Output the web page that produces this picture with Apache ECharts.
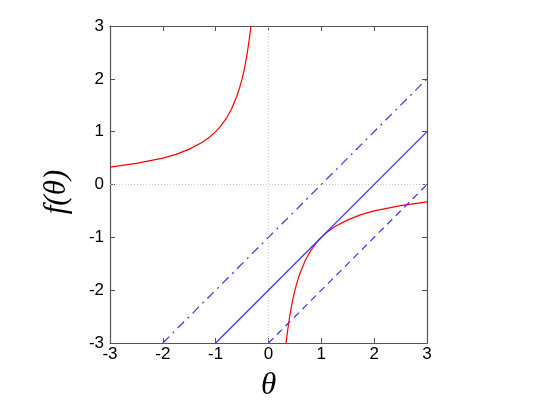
<!DOCTYPE html>
<html><head><meta charset="utf-8">
<script src="https://cdn.jsdelivr.net/npm/echarts@6/dist/echarts.min.js"></script>
<style>html,body{margin:0;padding:0;background:#fff}#c{width:545px;height:409px}</style>
</head><body><div id="c"></div>
<script>
// Values
var ticks = [-3, -2, -1, 0, 1, 2, 3];
var xName = 'θ';
var yName = 'f(θ)';
var redLeft = [[-3,0.33],[-2.5,0.4],[-2,0.5],[-1.75,0.57],[-1.5,0.67],[-1.25,0.8],[-1.1,0.91],[-1,1.0],[-0.9,1.11],[-0.8,1.25],[-0.7,1.43],[-0.6,1.67],[-0.55,1.82],[-0.5,2.0],[-0.45,2.22],[-0.4,2.5],[-0.36,2.78],[-0.333,3.0]];
var redRight = [[0.333,-3.0],[0.36,-2.78],[0.4,-2.5],[0.45,-2.22],[0.5,-2.0],[0.55,-1.82],[0.6,-1.67],[0.7,-1.43],[0.8,-1.25],[0.9,-1.11],[1,-1.0],[1.1,-0.91],[1.25,-0.8],[1.5,-0.67],[1.75,-0.57],[2,-0.5],[2.5,-0.4],[3,-0.33]];
var solidLine = [[-1,-3],[3,1]];
var dashDotLine = [[-2,-3],[3,2]];
var dashedLine = [[0,-3],[3,0]];
var zeroV = [[0,-3],[0,3]];
var zeroH = [[-3,0],[3,0]];

var chart = echarts.init(document.getElementById('c'), null, {renderer:'canvas'});
var axCol = '#555';
var lbl = {color:'#000', fontSize:17, fontFamily:'Liberation Sans'};
function ax(pos, show, extra){
  var a = {type:'value', min:ticks[0], max:ticks[ticks.length-1], interval:1, position:pos,
    axisLine:{show:true, onZero:false, lineStyle:{color:axCol, width:1.2}},
    axisTick:{show:true, inside:true, length:5, lineStyle:{color:axCol}},
    axisLabel:Object.assign({show:show}, lbl),
    splitLine:{show:false}};
  return Object.assign(a, extra||{});
}
chart.setOption({
  animation:false,
  grid:{left:110, top:26, width:317, height:317, containLabel:false, outerBoundsMode:'none'},
  graphic:[{type:'text', x:57, y:192, rotation:Math.PI/2,
    style:{text:yName, fontFamily:'Liberation Serif', fontStyle:'italic', fontSize:31, fill:'#000',
           align:'center', verticalAlign:'middle'}}],
  xAxis:[ax('bottom', true, {name:xName, nameLocation:'middle', nameGap:27, nameMoveOverlap:false,
            nameTextStyle:{fontFamily:'Liberation Serif', fontStyle:'italic', fontSize:31, color:'#000', verticalAlign:'top'},
            axisLabel:Object.assign({show:true, margin:3}, lbl)}),
         ax('top', false)],
  yAxis:[ax('left', true, {axisLabel:Object.assign({show:true, margin:6}, lbl)}),
         ax('right', false)],
  series:[
    {type:'line', data:zeroV, symbol:'none', lineStyle:{color:'#ccc', width:1, type:[1,2]}},
    {type:'line', data:zeroH, symbol:'none', lineStyle:{color:'#ccc', width:1, type:[1,2]}},
    {type:'line', data:redLeft, symbol:'none', lineStyle:{color:'#ff0000', width:1.2}},
    {type:'line', data:redRight, symbol:'none', lineStyle:{color:'#ff0000', width:1.2}},
    {type:'line', data:solidLine, symbol:'none', lineStyle:{color:'#3333ff', width:1.2}},
    {type:'line', data:dashDotLine, symbol:'none', lineStyle:{color:'#3333ff', width:1.2, type:[9,5,2,5]}},
    {type:'line', data:dashedLine, symbol:'none', lineStyle:{color:'#3333ff', width:1.2, type:[7,5]}}
  ]
});
</script></body></html>
